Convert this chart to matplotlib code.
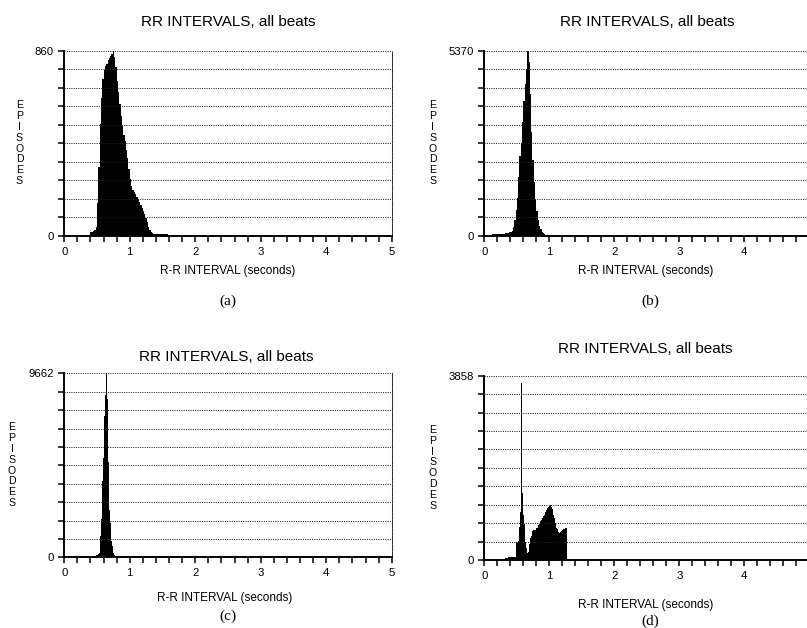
import numpy as np
import matplotlib
matplotlib.use("Agg")
import matplotlib.pyplot as plt

# ---- data (histogram counts per bin) ----
a_start, a_width = 0.38, 0.02
a_counts = [0, 15, 18, 20, 25, 40, 150, 320, 520, 640, 730, 770, 790, 800, 815,
            825, 835, 845, 860, 830, 785, 720, 670, 610, 555, 510, 470, 440, 400,
            360, 310, 262, 230, 212, 202, 192, 182, 170, 158, 145, 130, 115, 100,
            82, 62, 42, 26, 16, 12, 10, 10, 10, 9, 9, 8, 8, 7, 7, 6, 6, 5, 5, 4, 4, 3, 2, 1]
a_top = 860

b_start, b_width = 0.10, 0.02
b_counts = [0, 40, 50, 40, 50, 60, 60, 50, 60, 50, 60, 70, 80, 90, 100, 110, 140,
            250, 450, 750, 1100, 1700, 2300, 2700, 3300, 3900, 4400, 4850, 5370,
            5050, 4100, 3000, 2200, 1550, 1050, 720, 470, 290, 180, 110, 70, 40, 20, 10]
b_top = 5370

c_start, c_width = 0.41, 0.01
c_counts = [0, 80, 80, 80, 80, 90, 90, 100, 100, 110, 120, 150, 250, 500, 1100, 2000,
            3000, 4000, 5200, 6300, 7400, 8500, 9300, 9662, 8300, 6800, 5000, 3600,
            2500, 1800, 1250, 850, 580, 380, 240, 140, 70, 25]
c_top = 9662

d_start, d_width = 0.30, 0.01
d_counts = [20, 30, 40, 50, 50, 50, 50, 55, 55, 55, 55, 55, 60, 60, 60, 60, 60, 60,
            330, 370, 380, 360, 400, 500, 700, 1000, 1450, 3700, 1400, 1150, 950, 750,
            550, 380, 260, 180, 150, 160, 250, 330, 400, 460, 510, 560, 600, 620, 630,
            620, 630, 650, 660, 680, 700, 730, 760, 790, 810, 840, 860, 880, 900, 920,
            950, 980, 1010, 1040, 1060, 1080, 1100, 1120, 1140, 1150, 1130, 1100, 1060,
            1000, 940, 880, 820, 770, 720, 680, 640, 610, 590, 570, 560, 580, 600, 620,
            630, 640, 650, 655, 660, 665, 670]
d_top = 3858

title = "RR INTERVALS, all beats"
xlabel = "R-R INTERVAL (seconds)"
ylabel = "EPISODES"

W, H = 807, 628


def fx(x):
    return x / W


def fy(y):
    return 1 - y / H


fig = plt.figure(figsize=(W / 100, H / 100), dpi=100)
plt.rcParams["font.family"] = ["Liberation Sans", "DejaVu Sans"]

# panel layout in pixels: left, right, top, bottom, plus text anchors
panels = [
    dict(x0=64.3, x1=391.7, yt=50.7, yb=235.7, start=a_start, width=a_width, counts=a_counts,
         top=a_top, tx=228, ty=22, lx=228, ly=270.7, ex=19.5, tag="(a)", tagx=228, tagy=301),
    dict(x0=484.3, x1=809.3, yt=50.7, yb=235.7, start=b_start, width=b_width, counts=b_counts,
         top=b_top, tx=647, ty=22, lx=645.7, ly=270.7, ex=433, tag="(b)", tagx=650, tagy=301),
    dict(x0=64.3, x1=391.7, yt=373.3, yb=557.3, start=c_start, width=c_width, counts=c_counts,
         top=c_top, tx=226, ty=357.3, lx=225, ly=598.3, ex=12, tag="(c)", tagx=228, tagy=616),
    dict(x0=484.3, x1=809.3, yt=375.7, yb=560, start=d_start, width=d_width, counts=d_counts,
         top=d_top, tx=645, ty=349.2, lx=645.7, ly=605, ex=433, tag="(d)", tagx=650, tagy=621.5),
]

for p in panels:
    ax = fig.add_axes([fx(p["x0"]), fy(p["yb"]), fx(p["x1"] - p["x0"]),
                       (p["yb"] - p["yt"]) / H])
    counts = np.array(p["counts"], dtype=float)
    edges = p["start"] + p["width"] * np.arange(len(counts) + 1)
    ax.stairs(counts, edges, fill=True, color="black", linewidth=0)

    ax.set_xlim(0, 5)
    ax.set_ylim(0, p["top"])

    yt = np.linspace(0, p["top"], 11)
    ax.set_yticks(yt)
    ax.set_yticklabels([str(p["top"]) if i == 10 else ("0" if i == 0 else "")
                        for i in range(11)])
    ax.set_xticks(range(6))
    ax.set_xticks(np.arange(0, 5.01, 0.2), minor=True)
    ax.tick_params(axis="y", direction="out", length=4.5, width=1.1, pad=3,
                   labelsize=8.2)
    ax.tick_params(axis="x", which="both", direction="out", length=4.3, width=1.1,
                   pad=3.5, labelsize=8.2)

    ax.grid(axis="y", linestyle=(0, (1, 1.2)), color="#222222", linewidth=0.75)
    ax.set_axisbelow(False)
    ax.spines["top"].set_visible(False)
    ax.spines["right"].set_linestyle((0, (1, 1.2)))
    ax.spines["right"].set_linewidth(0.75)
    ax.spines["right"].set_color("#222222")
    ax.spines["left"].set_linewidth(1.4)
    ax.spines["bottom"].set_linewidth(1.4)

    fig.text(fx(p["tx"]), fy(p["ty"]), title, ha="center", va="center", fontsize=11)
    fig.text(fx(p["lx"]), fy(p["ly"]), xlabel, ha="center", va="center", fontsize=8.5)
    fig.text(fx(p["ex"]), fy((p["yt"] + p["yb"]) / 2), "\n".join(ylabel),
             ha="center", va="center", fontsize=7.6, linespacing=1.1)
    fig.text(fx(p["tagx"]), fy(p["tagy"]), p["tag"], ha="center", va="center",
             fontsize=11, family="Liberation Serif")

fig.savefig("out.png", dpi=100)
